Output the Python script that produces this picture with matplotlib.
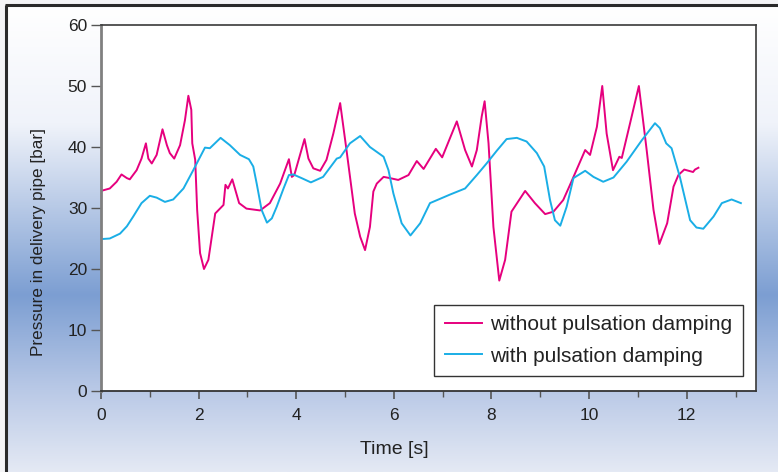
import numpy as np
import matplotlib
matplotlib.use("Agg")
import matplotlib.pyplot as plt
from matplotlib.colors import LinearSegmentedColormap

# Pressure traces in the delivery pipe
t_without = [0.00, 0.18, 0.32, 0.42, 0.53, 0.59, 0.73, 0.83, 0.92, 0.97, 1.04, 1.14,
             1.26, 1.35, 1.41, 1.50, 1.62, 1.72, 1.79, 1.85, 1.87, 1.93, 1.97, 2.03,
             2.11, 2.20, 2.27, 2.34, 2.51, 2.55, 2.60, 2.69, 2.83, 2.98, 3.26, 3.46,
             3.67, 3.85, 3.91, 3.96, 4.17, 4.25, 4.35, 4.49, 4.62, 4.76, 4.90, 5.03,
             5.20, 5.31, 5.41, 5.51, 5.58, 5.65, 5.79, 5.92, 6.09, 6.30, 6.47, 6.61,
             6.86, 6.99, 7.29, 7.46, 7.60, 7.70, 7.80, 7.86, 7.94, 8.04, 8.16, 8.28,
             8.41, 8.69, 8.89, 9.10, 9.27, 9.47, 9.61, 9.92, 10.02, 10.16, 10.27,
             10.36, 10.49, 10.62, 10.67, 10.84, 11.02, 11.18, 11.32, 11.44, 11.60,
             11.73, 11.83, 11.95, 12.13, 12.17, 12.24]
p_without = [32.8, 33.2, 34.3, 35.5, 34.9, 34.7, 36.2, 38.1, 40.6, 38.1, 37.3, 38.7,
             42.9, 40.3, 39.0, 38.1, 40.3, 44.4, 48.4, 46.1, 40.6, 37.9, 29.7, 22.6,
             20.0, 21.5, 25.3, 29.1, 30.5, 33.8, 33.2, 34.7, 30.8, 29.9, 29.6, 30.8,
             34.0, 38.0, 35.1, 35.4, 41.3, 38.1, 36.5, 36.1, 37.9, 42.2, 47.2, 39.5,
             29.1, 25.3, 23.1, 26.9, 32.7, 34.0, 35.1, 34.9, 34.6, 35.4, 37.7, 36.4,
             39.7, 38.3, 44.2, 39.5, 36.8, 39.5, 45.0, 47.5, 40.6, 26.9, 18.1, 21.5,
             29.4, 32.8, 30.8, 29.0, 29.4, 31.3, 33.8, 39.5, 38.7, 43.3, 50.0,
             42.2, 36.2, 38.4, 38.2, 43.9, 50.0, 39.5, 29.7, 24.1, 27.5,
             33.5, 35.4, 36.3, 35.9, 36.3, 36.6]

t_with = [0.00, 0.18, 0.39, 0.53, 0.66, 0.83, 1.00, 1.14, 1.31, 1.48, 1.69, 1.89,
          2.13, 2.23, 2.45, 2.64, 2.85, 3.03, 3.12, 3.19, 3.29, 3.40, 3.50, 3.60,
          3.74, 3.85, 3.94, 4.11, 4.30, 4.55, 4.83, 4.90, 5.10, 5.31, 5.51, 5.79,
          5.89, 5.99, 6.16, 6.34, 6.54, 6.74, 7.15, 7.46, 7.70, 7.90, 8.11, 8.31,
          8.52, 8.72, 8.93, 9.08, 9.20, 9.30, 9.41, 9.54, 9.68, 9.92, 10.09, 10.29,
          10.50, 10.77, 11.08, 11.35, 11.45, 11.58, 11.69, 11.86, 12.07, 12.20,
          12.34, 12.55, 12.72, 12.92, 13.11]
p_with = [24.9, 25.0, 25.8, 27.0, 28.6, 30.8, 32.0, 31.7, 31.0, 31.4, 33.2, 36.2,
          39.9, 39.8, 41.5, 40.3, 38.7, 38.0, 36.8, 34.0, 29.7, 27.6, 28.3, 30.2,
          33.2, 35.4, 35.5, 34.9, 34.2, 35.1, 38.1, 38.3, 40.6, 41.8, 40.0, 38.4,
          36.2, 32.4, 27.5, 25.5, 27.5, 30.8, 32.2, 33.2, 35.4, 37.3, 39.4, 41.3,
          41.5, 40.9, 39.0, 36.8, 31.3, 28.0, 27.1, 30.2, 34.9, 36.1, 35.1, 34.3,
          35.0, 37.6, 41.1, 43.9, 43.1, 40.6, 39.8, 35.1, 28.0, 26.8,
          26.6, 28.6, 30.8, 31.4, 30.8]

label_without = "without pulsation damping"
label_with = "with pulsation damping"
x_ticks = [0, 2, 4, 6, 8, 10, 12]
x_minor = [1, 3, 5, 7, 9, 11, 13]
y_ticks = [0, 10, 20, 30, 40, 50, 60]

plt.rcParams['font.family'] = ['Liberation Sans', 'DejaVu Sans']

W, H = 778, 472
fig = plt.figure(figsize=(W / 100, H / 100), dpi=100)
fig.patch.set_facecolor('#f4f4f6')

# Gradient backdrop: white at top, mid blue, pale at bottom
bg = fig.add_axes([0, 0, 1, 1], zorder=-10)
bg.set_axis_off()
grad_cmap = LinearSegmentedColormap.from_list(
    'bg', [(0.0, '#ffffff'), (0.25, '#f0f3fa'), (0.62, '#7c9ed2'),
           (0.82, '#b8c8e6'), (1.0, '#e4e9f4')])
gy = np.linspace(0, 1, 256).reshape(-1, 1)
bg.imshow(gy, aspect='auto', cmap=grad_cmap, extent=[7, W, H, 7],
          origin='upper')
bg.set_xlim(0, W)
bg.set_ylim(H, 0)
bg.plot([6, 6], [5, H], color='#2a2a2a', lw=2.2, solid_capstyle='butt')
bg.plot([5, W], [5, 5], color='#2a2a2a', lw=2.2, solid_capstyle='butt')

L, R, T, B = 101, 756, 25, 391
ax = fig.add_axes([L / W, 1 - B / H, (R - L) / W, (B - T) / H])
ax.set_facecolor('white')

ax.plot(t_without, p_without, color='#e6007e', lw=1.4, label=label_without,
        solid_joinstyle='round')
ax.plot(t_with, p_with, color='#1aaee6', lw=1.4, label=label_with,
        solid_joinstyle='round')

ax.set_xlim(0, 13.42)
ax.set_ylim(0, 60)
ax.set_xticks(x_ticks)
ax.set_xticks(x_minor, minor=True)
ax.set_yticks(y_ticks)
ax.tick_params(axis='both', which='both', direction='out', labelsize=12.5,
               colors='#555555', labelcolor='#222222')
ax.tick_params(axis='x', which='major', length=6, width=1.2, pad=6)
ax.tick_params(axis='x', which='minor', length=4, width=1.0)
ax.tick_params(axis='y', which='major', length=7, width=1.0, pad=3)

ax.spines['left'].set_color('#808080')
ax.spines['left'].set_linewidth(2.0)
ax.spines['bottom'].set_color('#333333')
ax.spines['bottom'].set_linewidth(1.3)
for s in ('top', 'right'):
    ax.spines[s].set_color('#3a3a3a')
    ax.spines[s].set_linewidth(1.2)

ax.set_xlabel('Time [s]', fontsize=14, color='#222222')
ax.xaxis.set_label_coords((394 - L) / (R - L), -(441 - B) / (B - T))
ax.set_ylabel('Pressure in delivery pipe [bar]', fontsize=12.3, color='#222222')
ax.yaxis.set_label_coords(-(L - 46) / (R - L), (B - 242) / (B - T))

leg = ax.legend(loc='lower right',
                bbox_to_anchor=((743 - L) / (R - L), (B - 376) / (B - T)),
                fontsize=15, frameon=True, fancybox=False, framealpha=1,
                edgecolor='#333333', borderpad=0.5, handlelength=1.8,
                handletextpad=0.4, labelspacing=0.6, borderaxespad=0)
leg.get_frame().set_linewidth(1.0)
for txt in leg.get_texts():
    txt.set_color('#222222')

fig.savefig('out.png', dpi=100, facecolor=fig.get_facecolor())
